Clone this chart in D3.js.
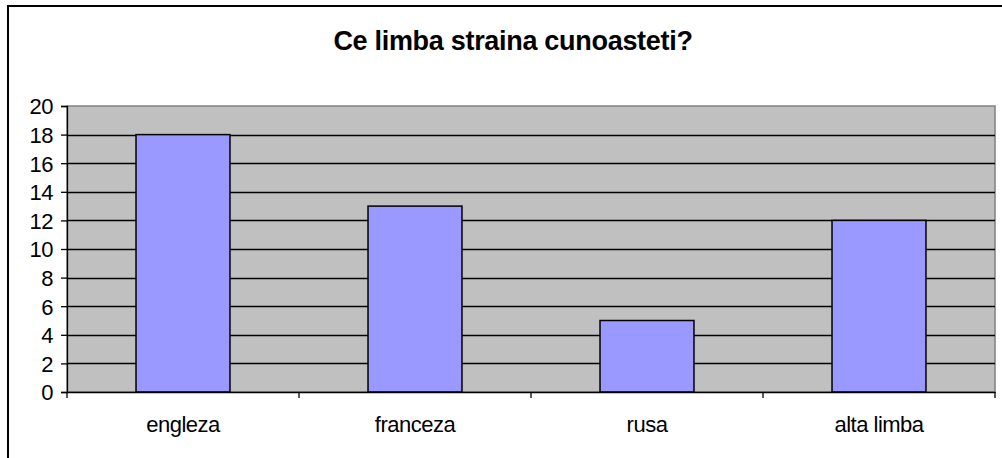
<!DOCTYPE html>
<html>
<head>
<meta charset="utf-8">
<script src="https://cdn.jsdelivr.net/npm/d3@7"></script>
<style>
  body { margin: 0; background: #fff; }
  text { font-family: "Liberation Sans", Arial, sans-serif; fill: #000; }
</style>
</head>
<body>
<svg id="chart"></svg>
<script>
const categories = ["engleza", "franceza", "rusa", "alta limba"];
const values = [18, 13, 5, 12];
const yTicks = [0, 2, 4, 6, 8, 10, 12, 14, 16, 18, 20];
const title = "Ce limba straina cunoasteti?";

const width = 1002, height = 458;
const m = { left: 67, right: 7, top: 106, bottom: 66 };

const svg = d3.select("#chart").attr("width", width).attr("height", height);

// outer frame
svg.append("rect")
  .attr("x", 8).attr("y", 6)
  .attr("width", 1010).attr("height", 470)
  .attr("fill", "#fff").attr("stroke", "#000").attr("stroke-width", 2);

svg.append("text")
  .attr("x", 513).attr("y", 50)
  .attr("text-anchor", "middle")
  .style("font-size", "27px").style("font-weight", "bold")
  .style("letter-spacing", "-0.3px")
  .text(title);

const x = d3.scaleBand().domain(categories)
  .range([m.left, width - m.right]).paddingInner(0).paddingOuter(0);
const y = d3.scaleLinear().domain([0, 20]).range([height - m.bottom, m.top]);

// plot area
svg.append("rect")
  .attr("x", m.left).attr("y", m.top)
  .attr("width", width - m.right - m.left).attr("height", y(0) - m.top)
  .attr("fill", "#c0c0c0").attr("stroke", "#808080").attr("stroke-width", 1.5);

// gridlines
svg.append("g").selectAll("line")
  .data(yTicks.filter(d => d > 0 && d < 20))
  .join("line")
  .attr("x1", m.left).attr("x2", width - m.right)
  .attr("y1", d => Math.round(y(d)) + 0.5).attr("y2", d => Math.round(y(d)) + 0.5)
  .attr("stroke", "#000").attr("stroke-width", 1.3);

// bars
const barW = x.bandwidth() * 0.405;
svg.append("g").selectAll("rect")
  .data(values)
  .join("rect")
  .attr("x", (d, i) => x(categories[i]) + (x.bandwidth() - barW) / 2)
  .attr("y", d => y(d))
  .attr("width", barW)
  .attr("height", d => y(0) - y(d))
  .attr("fill", "#9999ff").attr("stroke", "#000").attr("stroke-width", 1.5);

// y axis
const yAxis = svg.append("g")
  .attr("transform", `translate(${m.left},0)`)
  .call(d3.axisLeft(y).tickValues(yTicks).tickSize(6).tickPadding(8));
yAxis.select(".domain").attr("stroke", "#000").attr("stroke-width", 1.3);
yAxis.selectAll(".tick line").attr("stroke", "#000").attr("stroke-width", 1.3);
yAxis.selectAll("text").style("font-size", "22px").attr("font-family", null)
  .attr("dy", "0.36em").style("letter-spacing", "-0.5px");

// x axis
const xAxis = svg.append("g")
  .attr("transform", `translate(0,${y(0)})`)
  .call(d3.axisBottom(x).tickSize(0).tickPadding(0));
xAxis.select(".domain").attr("stroke", "#000").attr("stroke-width", 1.3);
xAxis.selectAll("text").style("font-size", "22px").attr("font-family", null)
  .attr("y", 40).attr("dy", 0).style("letter-spacing", "-0.5px");

// category boundary ticks
const bounds = categories.map(c => x(c)).concat([width - m.right]);
svg.append("g").selectAll("line")
  .data(bounds)
  .join("line")
  .attr("x1", d => d).attr("x2", d => d)
  .attr("y1", y(0)).attr("y2", y(0) + 6)
  .attr("stroke", "#000").attr("stroke-width", 1.3);
</script>
</body>
</html>
